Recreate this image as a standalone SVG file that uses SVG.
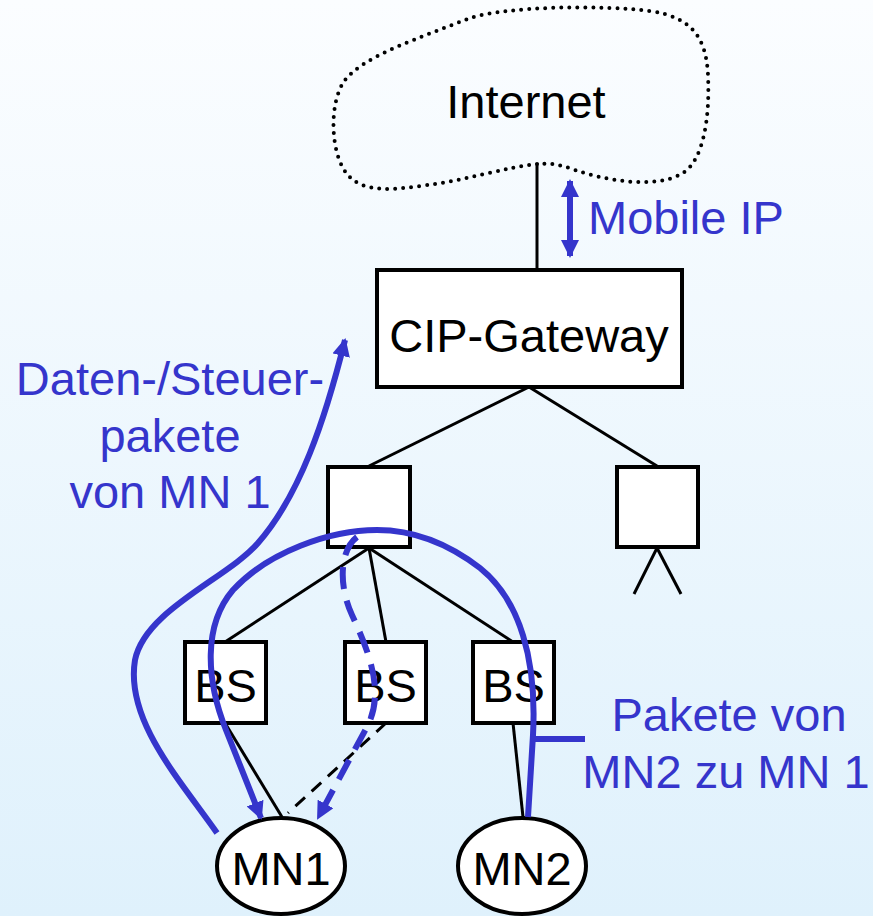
<svg xmlns="http://www.w3.org/2000/svg" width="873" height="916" viewBox="0 0 873 916">
<defs>
<linearGradient id="bg" x1="0" y1="0" x2="0" y2="1">
<stop offset="0" stop-color="#fbfdff"/>
<stop offset="1" stop-color="#dff1fc"/>
</linearGradient>
<marker id="ah" markerUnits="userSpaceOnUse" viewBox="0 0 18 18" markerWidth="18" markerHeight="18" refX="16" refY="9" orient="auto-start-reverse">
<path d="M0,0 L18,9 L0,18 Z" fill="#3535cc"/>
</marker>
</defs>
<style>
.t{font-family:"Liberation Sans",Arial,sans-serif;font-size:47px;fill:#000}
.b{font-family:"Liberation Sans",Arial,sans-serif;font-size:47px;fill:#3535cc}
.box{fill:#fff;stroke:#000;stroke-width:4}
.ln{fill:none;stroke:#000;stroke-width:3}
.bl{fill:none;stroke:#3535cc;stroke-width:6}
</style>
<rect width="873" height="916" fill="url(#bg)"/>

<g id="connectors">
<line class="ln" x1="537" y1="163" x2="537" y2="270"/>
<line class="ln" x1="529" y1="387" x2="369" y2="466"/>
<line class="ln" x1="529" y1="387" x2="657" y2="466"/>
<line class="ln" x1="369" y1="548" x2="225" y2="642"/>
<line class="ln" x1="369" y1="548" x2="386" y2="642"/>
<line class="ln" x1="369" y1="548" x2="513" y2="642"/>
<line class="ln" x1="657" y1="548" x2="634" y2="594"/>
<line class="ln" x1="657" y1="548" x2="681" y2="594"/>
<line class="ln" x1="225" y1="723" x2="282" y2="817"/>
<line class="ln" x1="513" y1="723" x2="523" y2="817"/>
<line class="ln" x1="386" y1="723" x2="288" y2="813" stroke-dasharray="13 9"/>
</g>

<g id="internet">
<path d="M537,164 C505,167 470,180 420,186 C380,192 355,190 343,168 C330,145 330,100 345,80 C365,55 420,38 470,18 C510,6 600,5 650,11 C690,17 706,35 708,75 C710,120 703,160 683,173 C655,190 605,180 575,170 C560,164 548,163 537,164 Z" fill="none" stroke="#000" stroke-width="4" stroke-linecap="round" stroke-dasharray="0 8"/>
<text class="t" x="526" y="118" text-anchor="middle">Internet</text>
</g>

<g id="gateway">
<rect class="box" x="377" y="270" width="305" height="117"/>
<text class="t" x="529" y="352" text-anchor="middle">CIP-Gateway</text>
</g>

<g id="router1"><rect class="box" x="328" y="467" width="82" height="80"/></g>
<g id="router2"><rect class="box" x="617" y="467" width="81" height="80"/></g>

<g id="bs1"><rect class="box" x="185" y="642" width="81" height="81"/><text class="t" x="225.5" y="702" text-anchor="middle">BS</text></g>
<g id="bs2"><rect class="box" x="345" y="642" width="81" height="81"/><text class="t" x="385.5" y="702" text-anchor="middle">BS</text></g>
<g id="bs3"><rect class="box" x="473" y="642" width="81" height="81"/><text class="t" x="513.5" y="702" text-anchor="middle">BS</text></g>

<g id="mn1"><ellipse class="box" cx="281" cy="866" rx="64" ry="48"/><text class="t" x="281" y="885" text-anchor="middle">MN1</text></g>
<g id="mn2"><ellipse class="box" cx="522" cy="866" rx="64" ry="48"/><text class="t" x="522" y="885" text-anchor="middle">MN2</text></g>

<g id="flows">
<line class="bl" x1="570" y1="181" x2="570" y2="256" marker-start="url(#ah)" marker-end="url(#ah)" stroke-width="4"/>
<path class="bl" d="M217,833 C180,780 125,720 135,660 C145,610 228,578 258,543 C300,495 325,420 345,340" marker-end="url(#ah)"/>
<path class="bl" d="M528,817 L533,735 C537,660 520,600 480,568 C450,545 415,530 377,530 C330,530 268,552 233,590 C203,625 206,680 226,730 L261,818" marker-end="url(#ah)"/>
<path class="bl" d="M357,537 C340,550 338,585 352,615 C368,650 385,690 368,725 L318,818" stroke-dasharray="22 12" marker-end="url(#ah)"/>
<line class="bl" x1="535" y1="739" x2="585" y2="739" stroke-width="4"/>
</g>

<g id="labels">
<text class="b" x="588" y="234">Mobile IP</text>
<text class="b" x="170" y="395" text-anchor="middle">Daten-/Steuer-</text>
<text class="b" x="170" y="452" text-anchor="middle">pakete</text>
<text class="b" x="170" y="508" text-anchor="middle">von MN 1</text>
<text class="b" x="729" y="731" text-anchor="middle">Pakete von</text>
<text class="b" x="726" y="788" text-anchor="middle">MN2 zu MN 1</text>
</g>
</svg>
